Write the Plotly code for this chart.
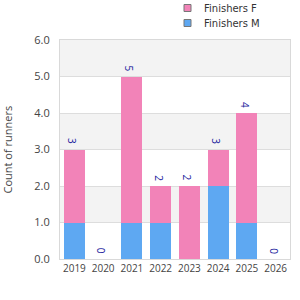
import plotly.graph_objects as go

years = ["2019", "2020", "2021", "2022", "2023", "2024", "2025", "2026"]
finishers_m = [1, 0, 1, 1, 0, 2, 1, 0]
finishers_f = [2, 0, 4, 1, 2, 1, 3, 0]
totals = [m + f for m, f in zip(finishers_m, finishers_f)]
series_names = ["Finishers F", "Finishers M"]
y_title = "Count of runners"

pink = "#f283b8"
blue = "#5ea8f2"
font = "Open Sans"

fig = go.Figure()
fig.add_trace(go.Bar(x=years, y=finishers_m, marker=dict(color=blue, line=dict(width=0)),
                     name=series_names[1], showlegend=False))
fig.add_trace(go.Bar(x=years, y=finishers_f, marker=dict(color=pink, line=dict(width=0)),
                     name=series_names[0], showlegend=False))

# total labels above stacks (x given as category index)
for i, tot in enumerate(totals):
    fig.add_annotation(x=i, y=tot, xref="x", yref="y", text=str(tot), textangle=90,
                       showarrow=False, xanchor="center", yanchor="bottom", yshift=3, xshift=-2,
                       font=dict(color="#1a1a9c", size=10, family=font))

for lo in [1, 3, 5]:
    fig.add_shape(type="rect", xref="paper", x0=0, x1=1, yref="y", y0=lo, y1=lo + 1,
                  fillcolor="#f3f3f3", line=dict(width=0), layer="below")

# plot area: x 60..290 px, y 40..259 px
L, W, B, H = 60, 230, 259, 219
def px_x(p):
    return (p - L) / W
def px_y(p):
    return (B - p) / H

# manual legend
for name, color, cy in [(series_names[0], pink, 8), (series_names[1], blue, 23)]:
    fig.add_shape(type="rect", xref="paper", yref="paper",
                  x0=px_x(184), x1=px_x(191), y0=px_y(cy + 3.5), y1=px_y(cy - 3.5),
                  fillcolor=color, line=dict(color="#777", width=1))
    fig.add_annotation(xref="paper", yref="paper", x=px_x(202), y=px_y(cy), xanchor="left",
                       yanchor="middle", text=name, showarrow=False,
                       font=dict(family="DejaVu Sans", size=10, color="#333"))

# y-axis title
fig.add_annotation(xref="paper", yref="paper", x=px_x(7), y=0.5, text=y_title, textangle=-90,
                   showarrow=False, xanchor="center", yanchor="middle",
                   font=dict(family=font, size=11, color="#444"))

fig.update_layout(
    barmode="stack", bargap=0.27,
    width=300, height=300,
    margin=dict(l=L, r=300 - L - W, t=B - H, b=300 - B),
    plot_bgcolor="white", paper_bgcolor="white",
    font=dict(family=font, size=11, color="#444"),
    showlegend=False,
    xaxis=dict(type="category", showline=True, linecolor="#d9d9d9", mirror=True,
               showgrid=False, tickfont=dict(size=10, color="#444"), ticks=""),
    yaxis=dict(range=[0, 6], dtick=1, tickformat=".1f", showline=True, linecolor="#d9d9d9",
               mirror=True, gridcolor="#dddddd", zeroline=False, automargin=False,
               ticks="outside", ticklen=7, tickcolor="rgba(0,0,0,0)",
               tickfont=dict(size=11, color="#444")),
)

fig.write_html("out.html")
